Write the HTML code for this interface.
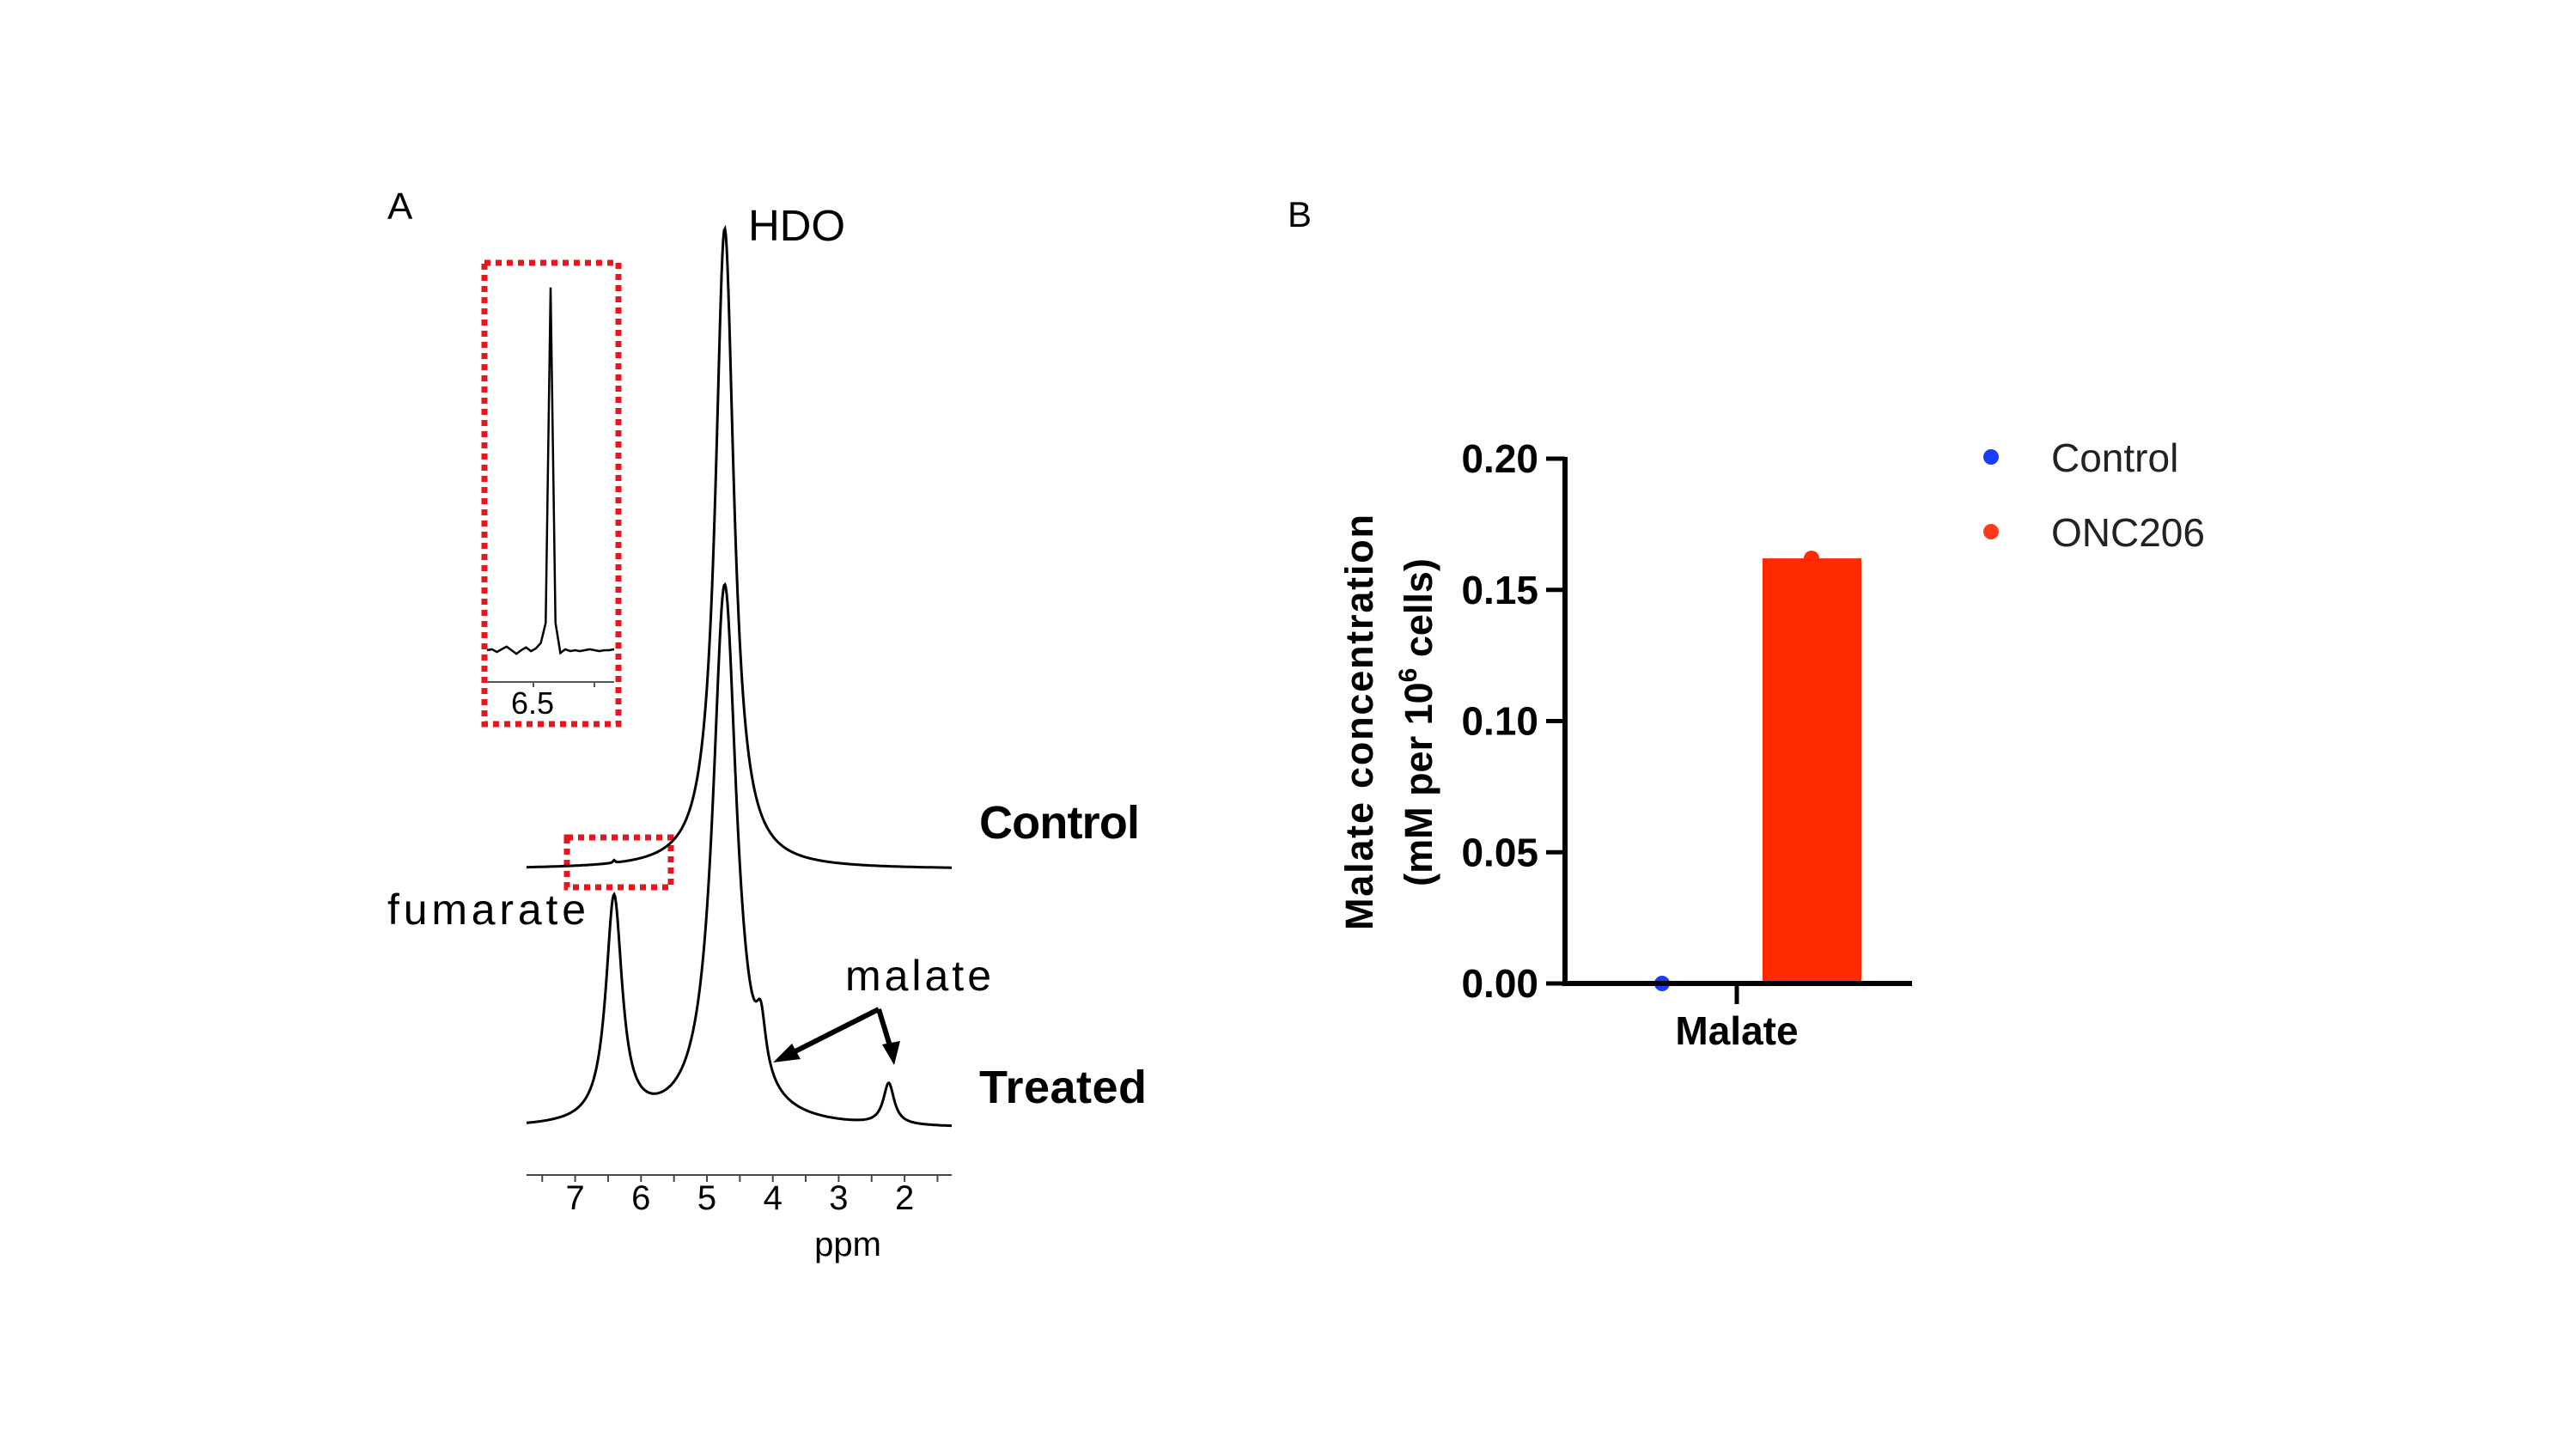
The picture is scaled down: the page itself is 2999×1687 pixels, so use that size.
<!DOCTYPE html>
<html><head><meta charset="utf-8"><style>
html,body{margin:0;padding:0;background:#fff;}
svg{display:block;}
text{font-family:"Liberation Sans",Arial,sans-serif;}
</style></head><body>
<svg id="fig" width="2999" height="1687" viewBox="0 0 2999 1687" xmlns="http://www.w3.org/2000/svg">
<rect width="2999" height="1687" fill="#fff"/>
<g id="panelA">
  <text x="451" y="255" font-size="44">A</text>
  <text x="871" y="280" font-size="51" textLength="113">HDO</text>
  <text x="451" y="1076" font-size="50" textLength="231">fumarate</text>
  <text x="984" y="1153" font-size="50" textLength="170">malate</text>
  <text x="1140" y="976" font-size="54" font-weight="bold" textLength="187">Control</text>
  <text x="1140" y="1284" font-size="54" font-weight="bold" textLength="195">Treated</text>
  <path d="M1023,1175 L912,1231 M1023,1175 L1038,1224" stroke="#000" stroke-width="6" fill="none"/>
  <polygon points="900,1237 922,1215 932,1233" fill="#000"/>
  <polygon points="1041,1240 1027,1216 1048,1212" fill="#000"/>
  <rect x="564" y="306" width="156" height="537" fill="none" stroke="#e8141e" stroke-width="7" stroke-dasharray="7,6"/>
  <rect x="660" y="975" width="121" height="58" fill="none" stroke="#e8141e" stroke-width="7" stroke-dasharray="7,6"/>
  <line x1="567" y1="794" x2="715" y2="794" stroke="#555" stroke-width="2"/>
  <line x1="621" y1="794" x2="621" y2="800" stroke="#555" stroke-width="2"/>
  <line x1="692" y1="794" x2="692" y2="800" stroke="#555" stroke-width="2"/>
  <text x="620" y="831" font-size="36" text-anchor="middle">6.5</text>
  <line x1="613" y1="1368" x2="1108" y2="1368" stroke="#444" stroke-width="2"/>
  <g id="aTicks"></g>
  <text x="987" y="1462" font-size="40" text-anchor="middle">ppm</text>
  <path id="ctrlPath" fill="none" stroke="#000" stroke-width="3"/>
  <path id="trtPath" fill="none" stroke="#000" stroke-width="3"/>
  <path id="insetPath" fill="none" stroke="#000" stroke-width="2.5"/>
</g>
<g id="panelB">
  <text x="1499" y="264" font-size="42">B</text>
  <g id="bTicks"></g>
  <g id="bMarks"></g>
  <line x1="1822" y1="532" x2="1822" y2="1145" stroke="#000" stroke-width="6"/>
  <line x1="1819" y1="1145" x2="2226" y2="1145" stroke="#000" stroke-width="6"/>
  <line x1="2022" y1="1145" x2="2022" y2="1169" stroke="#000" stroke-width="5"/>
  <text x="2022" y="1216" font-size="46" font-weight="bold" text-anchor="middle">Malate</text>
  <g transform="translate(1598,841) rotate(-90)">
    <text x="0" y="0" font-size="45" font-weight="bold" text-anchor="middle" textLength="484">Malate concentration</text>
    <text x="0" y="69" font-size="45" font-weight="bold" text-anchor="middle">(mM per 10<tspan font-size="30" dy="-18">6</tspan><tspan dy="18"> cells)</tspan></text>
  </g>
  <circle cx="2318" cy="532" r="9" fill="#1a3cff"/>
  <text x="2388" y="549" font-size="46" fill="#222">Control</text>
  <circle cx="2318" cy="619" r="9" fill="#ff3a1a"/>
  <text x="2388" y="636" font-size="46" fill="#222">ONC206</text>
</g>
<script>
// ---- Panel A data ----
const ppmTicks = [7, 6, 5, 4, 3, 2];
const ctrlPeakPpm = [4.73, 6.41];
const ctrlPeakHeight = [746, 3];
const ctrlPeakWidth = [0.17, 0.02];
const trtPeakPpm = [4.73, 6.41, 4.18, 2.24];
const trtPeakHeight = [630, 262, 60, 48];
const trtPeakWidth = [0.22, 0.15, 0.09, 0.1];
const insetSignal = [0,1,-2,1,4,0,-4,0,3,-1,2,8,30,400,30,-3,1,-1,0,-1,0,1,0,-1,0,0,1];
// ---- Panel B data ----
const bCategories = ["Control", "ONC206"];
const bValues = [0.0, 0.162];
const bTickValues = [0.00, 0.05, 0.10, 0.15, 0.20];
const bTickLabels = ["0.00", "0.05", "0.10", "0.15", "0.20"];

const NS = "http://www.w3.org/2000/svg";
function mk(tag, attrs, parent){const e=document.createElementNS(NS,tag);for(const k in attrs)e.setAttribute(k,attrs[k]);parent.appendChild(e);return e;}

// Panel A axis
const xPpm = p => 823 + (5 - p) * 76.7;
const aT = document.getElementById('aTicks');
for (let p = 7.5; p >= 1.5; p -= 0.5) {
  const t = mk('line', {x1:xPpm(p), y1:1368, x2:xPpm(p), y2:1376, stroke:'#444','stroke-width':2}, aT);
  
  
}
ppmTicks.forEach(p => {
  const t = mk('text', {x:xPpm(p), y:1408, 'font-size':40, 'text-anchor':'middle'}, aT);
  t.textContent = p;
  
  
});
function spectrum(pp, hh, ww, base){
  let d = '';
  for (let x = 613; x <= 1108; x += 1) {
    const p = 5 - (x - 823) / 76.7;
    let y = 0;
    for (let i = 0; i < pp.length; i++) { const dd = (p - pp[i]) / ww[i]; y += hh[i] / (1 + dd * dd); }
    d += (d ? 'L' : 'M') + x + ',' + (base - y).toFixed(1);
  }
  return d;
}
document.getElementById('ctrlPath').setAttribute('d', spectrum(ctrlPeakPpm, ctrlPeakHeight, ctrlPeakWidth, 1012));
document.getElementById('trtPath').setAttribute('d', spectrum(trtPeakPpm, trtPeakHeight, trtPeakWidth, 1314));
(function(){
  const n = insetSignal.length, x0 = 567, x1 = 715;
  let d = '';
  insetSignal.forEach((v, i) => {
    const x = x0 + (x1 - x0) * i / (n - 1);
    d += (i ? 'L' : 'M') + x.toFixed(1) + ',' + (757 - v * 1.056).toFixed(1);
  });
  document.getElementById('insetPath').setAttribute('d', d);
})();

// Panel B
const yB = v => 1145 - v / 0.2 * 611;
const bT = document.getElementById('bTicks');
bTickValues.forEach((v, i) => {
  const l = mk('line', {x1:1800, y1:yB(v), x2:1822, y2:yB(v), stroke:'#000','stroke-width':5}, bT);
  
  
  const t = mk('text', {x:1791, y:yB(v) + 16, 'font-size':46, 'font-weight':'bold', 'text-anchor':'end'}, bT);
  t.textContent = bTickLabels[i];
  
  
});
const bM = document.getElementById('bMarks');
const barColors = ['#1a3cff', '#ff2a00'];
const barCenters = [1935, 2109];
bCategories.forEach((c, i) => {
  const v = bValues[i];
  if (v > 0) {
    const r = mk('rect', {x:barCenters[i] - 57, y:yB(v), width:115, height:1145 - yB(v), fill:barColors[i]}, bM);
    
    
  }
  const dot = mk('circle', {cx:barCenters[i], cy:yB(v), r:9, fill:barColors[i]}, bM);
  
  
});
</script>
</svg>
</body></html>
